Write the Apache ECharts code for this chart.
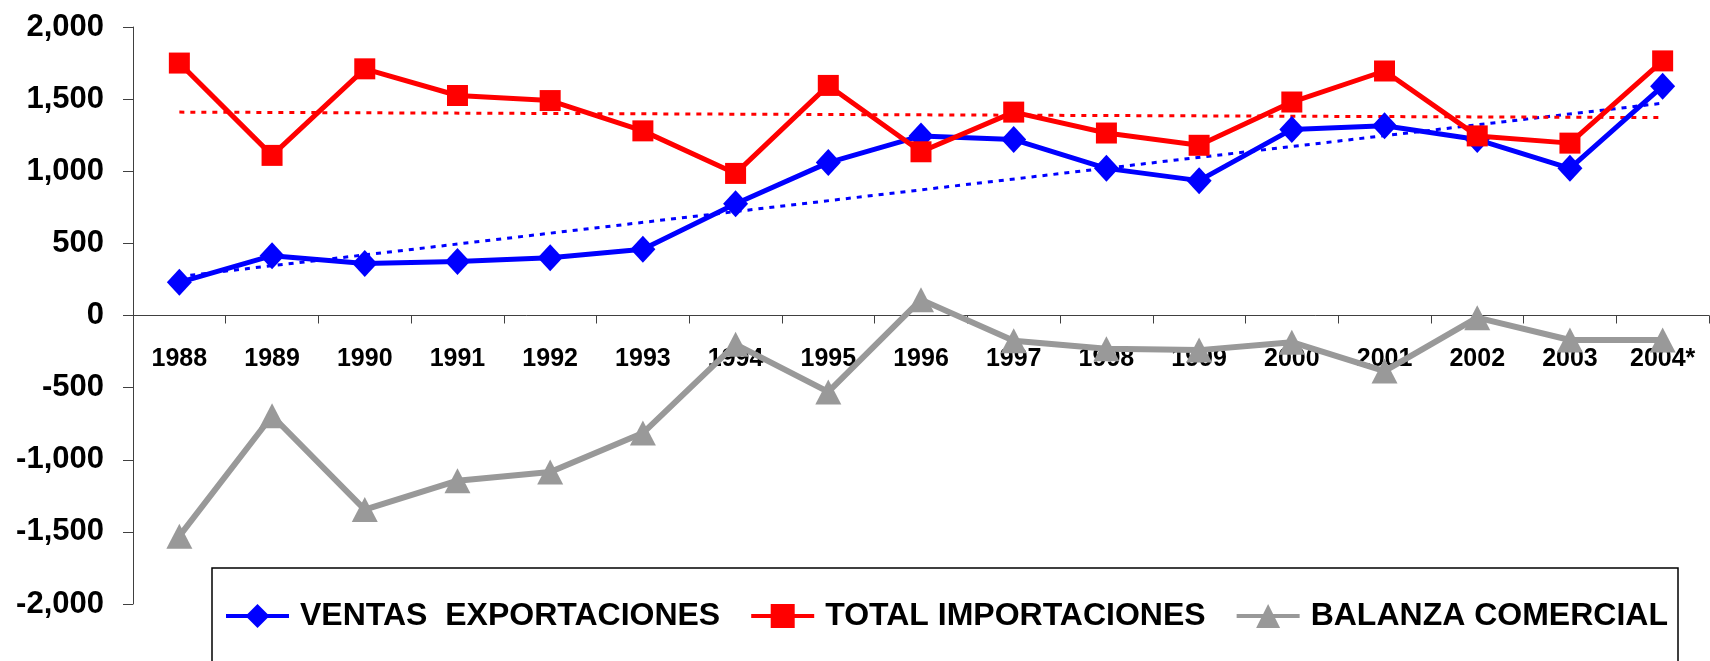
<!DOCTYPE html>
<html>
<head>
<meta charset="utf-8">
<title>Balanza comercial</title>
<script src="https://cdn.jsdelivr.net/npm/echarts@6/dist/echarts.min.js"></script>
<style>
  html, body { margin: 0; padding: 0; background: #fff; }
  #chart { width: 1710px; height: 661px; }
</style>
</head>
<body>
<div id="chart"></div>
<script>
// datos (millones)
var years = ['1988', '1989', '1990', '1991', '1992', '1993', '1994', '1995', '1996',
             '1997', '1998', '1999', '2000', '2001', '2002', '2003', '2004*'];
var ventas = [230, 415, 360, 375, 400, 460, 775, 1060, 1245, 1220, 1020, 935, 1290, 1315, 1220, 1020, 1590];
var importaciones = [1750, 1110, 1710, 1525, 1490, 1280, 985, 1595, 1135, 1410, 1265, 1180, 1480, 1695, 1245, 1195, 1765];
var balanza = [-1530, -695, -1345, -1145, -1085, -815, -200, -530, 110, -175, -230, -240, -185, -385, -15, -170, -170];
// lineas de tendencia: solo extremos, unidos por connectNulls
var tendVentas = [270, null, null, null, null, null, null, null, null, null, null, null, null, null, null, null, 1472];
var tendImport = [1410, null, null, null, null, null, null, null, null, null, null, null, null, null, null, null, 1372];
var yTicks = { min: -2000, max: 2000, interval: 500 };

var myChart = echarts.init(document.getElementById('chart'));

function fmt(v) {
  var s = Math.abs(v).toString().replace(/\B(?=(\d{3})+(?!\d))/g, ',');
  return (v < 0 ? '-' : '') + s;
}

var font = '"Liberation Sans", Arial, sans-serif';
var gridH = 577;

var option = {
  animation: false,
  grid: { left: 133, right: 1, top: 27, bottom: 57 },
  xAxis: {
    type: 'category',
    data: years,
    boundaryGap: true,
    position: 'bottom',
    // el eje X va en el cero (mitad del rango -2000..2000)
    offset: -gridH / 2,
    axisLine: { onZero: false, lineStyle: { color: '#404040', width: 1 } },
    axisTick: { show: true, length: 8, alignWithLabel: false, lineStyle: { color: '#404040' } },
    axisLabel: {
      interval: 0,
      margin: 31,
      color: '#000',
      fontWeight: 'bold',
      fontSize: 25,
      fontFamily: font
    },
    z: 1
  },
  yAxis: {
    type: 'value',
    min: yTicks.min,
    max: yTicks.max,
    interval: yTicks.interval,
    splitLine: { show: false },
    axisLine: { show: true, lineStyle: { color: '#404040', width: 1 } },
    axisTick: { show: true, length: 10, lineStyle: { color: '#404040' } },
    axisLabel: {
      margin: 29,
      color: '#000',
      fontWeight: 'bold',
      fontSize: 31,
      fontFamily: font,
      formatter: fmt
    }
  },
  legend: {
    data: ['VENTAS  EXPORTACIONES', 'TOTAL IMPORTACIONES', 'BALANZA COMERCIAL'],
    left: 224,
    top: 600,
    padding: 0,
    itemWidth: 63,
    itemHeight: 30,
    itemGap: 29,
    lineStyle: { width: 4 },
    textStyle: {
      color: '#000',
      fontWeight: 'bold',
      fontSize: 32,
      fontFamily: font,
      padding: [0, 0, 0, 6]
    }
  },
  graphic: [{
    type: 'rect',
    shape: { x: 212, y: 568, width: 1466, height: 120 },
    style: { fill: 'none', stroke: '#000', lineWidth: 1.5 },
    silent: true
  }],
  series: [
    {
      name: 'tendencia ventas',
      type: 'line',
      data: tendVentas,
      connectNulls: true,
      symbol: 'none',
      lineStyle: { color: '#0000ff', width: 3, type: [5, 6] },
      z: 2
    },
    {
      name: 'tendencia importaciones',
      type: 'line',
      data: tendImport,
      connectNulls: true,
      symbol: 'none',
      lineStyle: { color: '#ff0000', width: 3, type: [5, 6] },
      z: 2
    },
    {
      name: 'VENTAS  EXPORTACIONES',
      type: 'line',
      data: ventas,
      symbol: 'diamond',
      symbolSize: [25, 27],
      lineStyle: { color: '#0000ff', width: 5 },
      itemStyle: { color: '#0000ff' },
      z: 3
    },
    {
      name: 'TOTAL IMPORTACIONES',
      type: 'line',
      data: importaciones,
      symbol: 'rect',
      symbolSize: 21,
      lineStyle: { color: '#ff0000', width: 5 },
      itemStyle: { color: '#ff0000' },
      z: 4
    },
    {
      name: 'BALANZA COMERCIAL',
      type: 'line',
      data: balanza,
      symbol: 'triangle',
      symbolSize: [26, 25],
      lineStyle: { color: '#999999', width: 6 },
      itemStyle: { color: '#999999' },
      z: 5
    }
  ]
};

myChart.setOption(option);
window.addEventListener('resize', function () { myChart.resize(); });
</script>
</body>
</html>
